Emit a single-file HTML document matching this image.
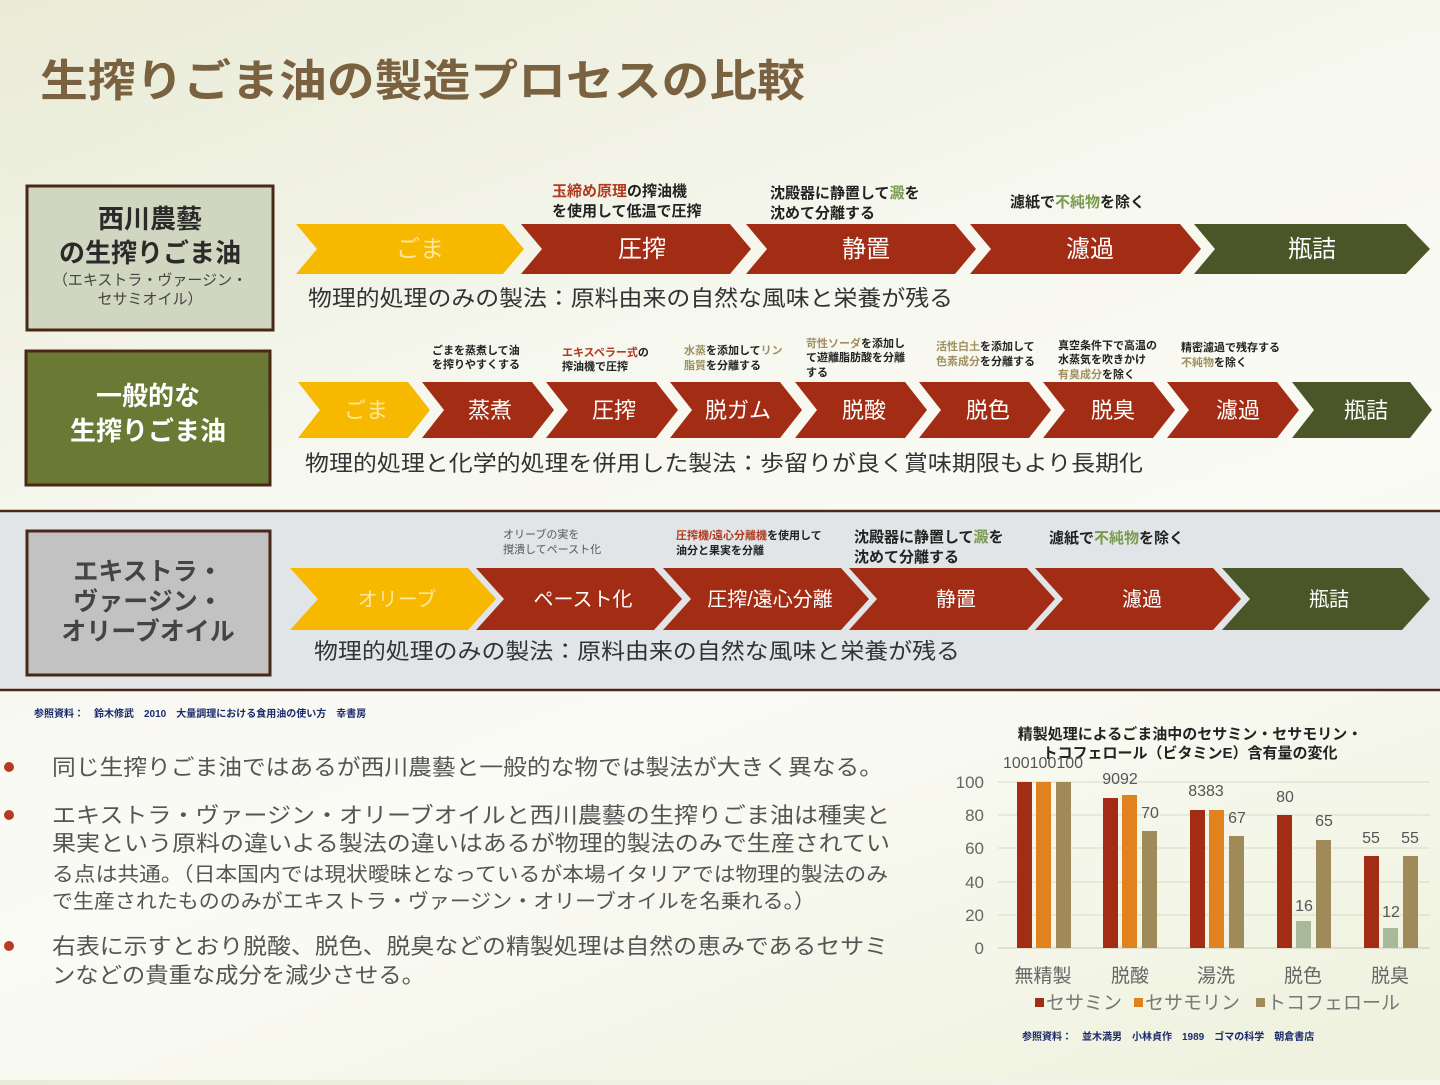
<!DOCTYPE html>
<html><head><meta charset="utf-8"><style>
html,body{margin:0;padding:0}
body{width:1440px;height:1080px;overflow:hidden;background:linear-gradient(160deg,#e9ebd6 0%,#f6f7ee 35%,#fbfbf6 60%,#eef1dc 100%);font-family:"Liberation Sans","Noto Sans CJK JP",sans-serif}
svg text{font-family:"Liberation Sans","Noto Sans CJK JP",sans-serif}
</style></head><body>
<svg width="1440" height="1080" viewBox="0 0 1440 1080" xmlns="http://www.w3.org/2000/svg">
<text x="40" y="96" font-size="44" font-weight="bold" fill="#7a6240" textLength="765" lengthAdjust="spacingAndGlyphs">生搾りごま油の製造プロセスの比較</text>

<!-- Row 1 -->
<rect x="27" y="186" width="246" height="144" fill="#d0d6bf" stroke="#4a2818" stroke-width="3"/>
<text x="150" y="228" font-size="26" font-weight="bold" fill="#2a2a2a" text-anchor="middle">西川農藝</text>
<text x="150" y="262" font-size="26" font-weight="bold" fill="#2a2a2a" text-anchor="middle">の生搾りごま油</text>
<text x="150" y="285" font-size="15" fill="#444" text-anchor="middle">（エキストラ・ヴァージン・</text>
<text x="150" y="304" font-size="15" fill="#444" text-anchor="middle">セサミオイル）</text>

<g font-size="24" fill="#fff" text-anchor="middle">
<polygon points="296,224 503,224 524,249 503,274 296,274 317,249" fill="#f7b800"/>
<text x="420" y="257" fill="#fde7a0">ごま</text>
<polygon points="521,224 730,224 751,249 730,274 521,274 542,249" fill="#a32c14"/>
<text x="642" y="257">圧搾</text>
<polygon points="746,224 955,224 976,249 955,274 746,274 767,249" fill="#a32c14"/>
<text x="866" y="257">静置</text>
<polygon points="970,224 1180,224 1201,249 1180,274 970,274 991,249" fill="#a32c14"/>
<text x="1090" y="257">濾過</text>
<polygon points="1194,224 1406,224 1430,249 1406,274 1194,274 1215,249" fill="#4a5628"/>
<text x="1312" y="257">瓶詰</text>
</g>
<g font-size="15" font-weight="bold" fill="#222">
<text x="552" y="196"><tspan fill="#b03a20">玉締め原理</tspan>の搾油機</text>
<text x="552" y="216">を使用して低温で圧搾</text>
<text x="770" y="198">沈殿器に静置して<tspan fill="#7a9a50">澱</tspan>を</text>
<text x="770" y="218">沈めて分離する</text>
<text x="1010" y="207">濾紙で<tspan fill="#7a9a50">不純物</tspan>を除く</text>
</g>
<text x="308" y="306" font-size="22" fill="#333" textLength="645" lengthAdjust="spacingAndGlyphs">物理的処理のみの製法：原料由来の自然な風味と栄養が残る</text>

<!-- Row 2 -->
<rect x="26" y="351" width="244" height="134" fill="#6a7a34" stroke="#4a2818" stroke-width="3"/>
<text x="148" y="405" font-size="26" font-weight="bold" fill="#fff" text-anchor="middle">一般的な</text>
<text x="148" y="440" font-size="26" font-weight="bold" fill="#fff" text-anchor="middle">生搾りごま油</text>
<g font-size="22" fill="#fff" text-anchor="middle">
<polygon points="298,382 408,382 430,410 408,438 298,438 320,410" fill="#f7b800"/>
<text x="366" y="418" fill="#fde7a0">ごま</text>
<polygon points="422,382 532,382 554,410 532,438 422,438 444,410" fill="#a32c14"/>
<text x="490" y="418">蒸煮</text>
<polygon points="546,382 656,382 678,410 656,438 546,438 568,410" fill="#a32c14"/>
<text x="614" y="418">圧搾</text>
<polygon points="670,382 780,382 802,410 780,438 670,438 692,410" fill="#a32c14"/>
<text x="738" y="418">脱ガム</text>
<polygon points="795,382 905,382 927,410 905,438 795,438 817,410" fill="#a32c14"/>
<text x="864" y="418">脱酸</text>
<polygon points="919,382 1029,382 1051,410 1029,438 919,438 941,410" fill="#a32c14"/>
<text x="988" y="418">脱色</text>
<polygon points="1043,382 1153,382 1175,410 1153,438 1043,438 1065,410" fill="#a32c14"/>
<text x="1113" y="418">脱臭</text>
<polygon points="1167,382 1277,382 1299,410 1277,438 1167,438 1189,410" fill="#a32c14"/>
<text x="1238" y="418">濾過</text>
<polygon points="1292,382 1410,382 1432,410 1410,438 1292,438 1314,410" fill="#4a5628"/>
<text x="1366" y="418">瓶詰</text>
</g>
<g font-size="11" font-weight="bold" fill="#222">
<text x="432" y="354">ごまを蒸煮して油</text><text x="432" y="368">を搾りやすくする</text>
<text x="562" y="356"><tspan fill="#b03a20">エキスペラー式</tspan>の</text><text x="562" y="370">搾油機で圧搾</text>
<text x="684" y="354"><tspan fill="#a09060">水蒸</tspan>を添加して<tspan fill="#a09060">リン</tspan></text><text x="684" y="369"><tspan fill="#a09060">脂質</tspan>を分離する</text>
<text x="806" y="347"><tspan fill="#a09060">苛性ソーダ</tspan>を添加し</text><text x="806" y="361">て遊離脂肪酸を分離</text><text x="806" y="376">する</text>
<text x="936" y="350"><tspan fill="#a09060">活性白土</tspan>を添加して</text><text x="936" y="365"><tspan fill="#a09060">色素成分</tspan>を分離する</text>
<text x="1058" y="349">真空条件下で高温の</text><text x="1058" y="363">水蒸気を吹きかけ</text><text x="1058" y="378"><tspan fill="#a09060">有臭成分</tspan>を除く</text>
<text x="1181" y="351">精密濾過で残存する</text><text x="1181" y="366"><tspan fill="#a09060">不純物</tspan>を除く</text>
</g>
<text x="305" y="471" font-size="22" fill="#333" textLength="838" lengthAdjust="spacingAndGlyphs">物理的処理と化学的処理を併用した製法：歩留りが良く賞味期限もより長期化</text>

<!-- Row 3 band -->
<rect x="-2" y="511" width="1444" height="179" fill="#e1e5e7" stroke="#4a2818" stroke-width="2.5"/>
<rect x="27" y="531" width="243" height="144" fill="#c2c2c2" stroke="#4a2818" stroke-width="3"/>
<text x="148" y="580" font-size="25" font-weight="bold" fill="#444" text-anchor="middle">エキストラ・</text>
<text x="148" y="610" font-size="25" font-weight="bold" fill="#444" text-anchor="middle">ヴァージン・</text>
<text x="148" y="640" font-size="25" font-weight="bold" fill="#444" text-anchor="middle">オリーブオイル</text>
<g font-size="20" fill="#fff" text-anchor="middle">
<polygon points="290,568 468,568 496,599 468,630 290,630 318,599" fill="#f7b800"/>
<text x="397" y="606" fill="#fde7a0">オリーブ</text>
<polygon points="476,568 654,568 682,599 654,630 476,630 504,599" fill="#a32c14"/>
<text x="583" y="606">ペースト化</text>
<polygon points="663,568 841,568 869,599 841,630 663,630 691,599" fill="#a32c14"/>
<text x="770" y="606">圧搾/遠心分離</text>
<polygon points="849,568 1027,568 1055,599 1027,630 849,630 877,599" fill="#a32c14"/>
<text x="956" y="606">静置</text>
<polygon points="1035,568 1213,568 1241,599 1213,630 1035,630 1063,599" fill="#a32c14"/>
<text x="1142" y="606">濾過</text>
<polygon points="1222,568 1402,568 1430,599 1402,630 1222,630 1250,599" fill="#4a5628"/>
<text x="1329" y="606">瓶詰</text>
</g>
<g font-size="11" fill="#555">
<text x="503" y="538">オリーブの実を</text><text x="503" y="553">撹潰してペースト化</text>
</g>
<g font-size="11" font-weight="bold" fill="#222">
<text x="676" y="539"><tspan fill="#b03a20">圧搾機/遠心分離機</tspan>を使用して</text><text x="676" y="554">油分と果実を分離</text>
</g>
<g font-size="15" font-weight="bold" fill="#222">
<text x="854" y="542">沈殿器に静置して<tspan fill="#7a9a50">澱</tspan>を</text>
<text x="854" y="562">沈めて分離する</text>
<text x="1049" y="543">濾紙で<tspan fill="#7a9a50">不純物</tspan>を除く</text>
</g>
<text x="314" y="659" font-size="22" fill="#333" textLength="646" lengthAdjust="spacingAndGlyphs">物理的処理のみの製法：原料由来の自然な風味と栄養が残る</text>

<text x="34" y="717" font-size="10" font-weight="bold" fill="#1a2a6a">参照資料：　鈴木修武　2010　大量調理における食用油の使い方　幸書房</text>

<!-- bullets -->
<g fill="#b83a20"><circle cx="9" cy="767" r="5"/><circle cx="9" cy="815" r="5"/><circle cx="9" cy="946" r="5"/></g>
<g font-size="22" fill="#555" lengthAdjust="spacingAndGlyphs">
<text x="52" y="775" textLength="831" lengthAdjust="spacingAndGlyphs">同じ生搾りごま油ではあるが西川農藝と一般的な物では製法が大きく異なる。</text>
<text x="52" y="823" textLength="838" lengthAdjust="spacingAndGlyphs">エキストラ・ヴァージン・オリーブオイルと西川農藝の生搾りごま油は種実と</text>
<text x="52" y="851" textLength="838" lengthAdjust="spacingAndGlyphs">果実という原料の違いよる製法の違いはあるが物理的製法のみで生産されてい</text>
<text x="52" y="881" font-size="20" textLength="836" lengthAdjust="spacingAndGlyphs">る点は共通。（日本国内では現状曖昧となっているが本場イタリアでは物理的製法のみ</text>
<text x="52" y="908" font-size="20" textLength="763" lengthAdjust="spacingAndGlyphs">で生産されたもののみがエキストラ・ヴァージン・オリーブオイルを名乗れる。）</text>
<text x="52" y="954" textLength="836" lengthAdjust="spacingAndGlyphs">右表に示すとおり脱酸、脱色、脱臭などの精製処理は自然の恵みであるセサミ</text>
<text x="52" y="983" textLength="373" lengthAdjust="spacingAndGlyphs">ンなどの貴重な成分を減少させる。</text>
</g>

<!-- chart -->
<text x="1190" y="739" font-size="15" font-weight="bold" fill="#222" text-anchor="middle">精製処理によるごま油中のセサミン・セサモリン・</text>
<text x="1190" y="758" font-size="15" font-weight="bold" fill="#222" text-anchor="middle">トコフェロール（ビタミンE）含有量の変化</text>
<g stroke="#d8dac8" stroke-width="1">
<line x1="998" y1="782" x2="1430" y2="782"/><line x1="998" y1="815" x2="1430" y2="815"/><line x1="998" y1="848" x2="1430" y2="848"/><line x1="998" y1="882" x2="1430" y2="882"/><line x1="998" y1="915" x2="1430" y2="915"/><line x1="998" y1="948" x2="1430" y2="948" stroke="#c8cab8"/>
</g>
<g font-size="17" fill="#666" text-anchor="end">
<text x="984" y="788">100</text><text x="984" y="821">80</text><text x="984" y="854">60</text><text x="984" y="888">40</text><text x="984" y="921">20</text><text x="984" y="954">0</text>
</g>
<g>
<rect x="1017" y="782" width="15" height="166" fill="#a32c14"/><rect x="1036" y="782" width="15" height="166" fill="#e0821e"/><rect x="1056" y="782" width="15" height="166" fill="#a08a5a"/>
<rect x="1103" y="798" width="15" height="150" fill="#a32c14"/><rect x="1122" y="795" width="15" height="153" fill="#e0821e"/><rect x="1142" y="831" width="15" height="117" fill="#a08a5a"/>
<rect x="1190" y="810" width="15" height="138" fill="#a32c14"/><rect x="1209" y="810" width="15" height="138" fill="#e0821e"/><rect x="1229" y="836" width="15" height="112" fill="#a08a5a"/>
<rect x="1277" y="815" width="15" height="133" fill="#a32c14"/><rect x="1296" y="921" width="15" height="27" fill="#a8b898"/><rect x="1316" y="840" width="15" height="108" fill="#a08a5a"/>
<rect x="1364" y="856" width="15" height="92" fill="#a32c14"/><rect x="1383" y="928" width="15" height="20" fill="#a8b898"/><rect x="1403" y="856" width="15" height="92" fill="#a08a5a"/>
</g>
<g font-size="16" fill="#555" text-anchor="middle">
<text x="1043" y="768">100100100</text>
<text x="1120" y="784">9092</text><text x="1150" y="818">70</text>
<text x="1206" y="796">8383</text><text x="1237" y="823">67</text>
<text x="1285" y="802">80</text><text x="1324" y="826">65</text><text x="1304" y="911">16</text>
<text x="1371" y="843">55</text><text x="1410" y="843">55</text><text x="1391" y="917">12</text>
</g>
<g font-size="19" fill="#666" text-anchor="middle">
<text x="1043" y="982">無精製</text><text x="1130" y="982">脱酸</text><text x="1216" y="982">湯洗</text><text x="1303" y="982">脱色</text><text x="1390" y="982">脱臭</text>
</g>
<rect x="1035" y="998" width="9" height="9" fill="#a32c14"/><rect x="1134" y="998" width="9" height="9" fill="#e0821e"/><rect x="1256" y="998" width="9" height="9" fill="#a08a5a"/>
<g font-size="19" fill="#777"><text x="1046" y="1009">セサミン</text><text x="1145" y="1009">セサモリン</text><text x="1267" y="1009">トコフェロール</text></g>
<text x="1022" y="1040" font-size="10" font-weight="bold" fill="#1a2a6a">参照資料：　並木満男　小林貞作　1989　ゴマの科学　朝倉書店</text>
</svg>
</body></html>
